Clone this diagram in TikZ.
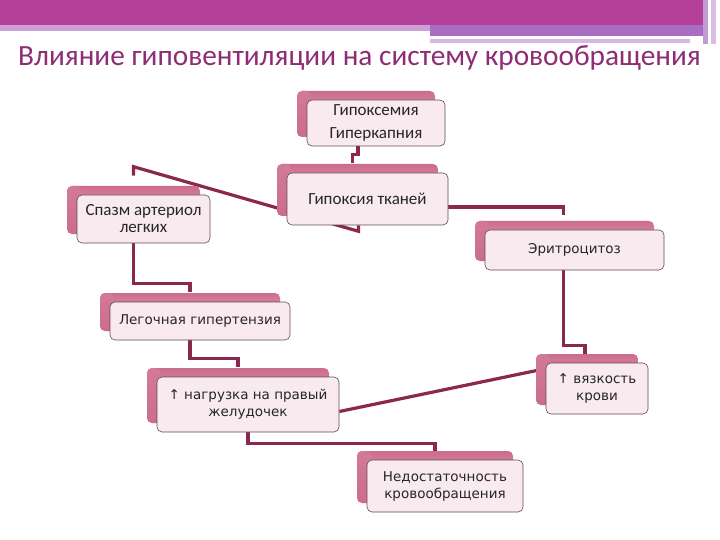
\documentclass[tikz,border=0pt]{standalone}
\usepackage{fontspec}
\setmainfont{DejaVu Sans}
\newfontfamily\cali{Carlito}
\usetikzlibrary{calc,backgrounds}

\definecolor{bandmag}{RGB}{181,64,154}
\definecolor{lilaca}{RGB}{204,160,214}
\definecolor{lilacb}{RGB}{168,110,196}
\definecolor{lilacc}{RGB}{216,184,226}
\definecolor{titlecol}{RGB}{142,44,116}
\definecolor{linkcol}{RGB}{138,40,80}
\definecolor{backtop}{RGB}{204,108,140}
\definecolor{backbot}{RGB}{238,192,207}
\definecolor{crimson}{RGB}{196,30,80}
\definecolor{frontpink}{RGB}{248,234,239}
\definecolor{edgecol}{RGB}{95,75,85}

\tikzset{
  link/.style={draw=linkcol, line width=3.2pt},
  plate/.style={draw=edgecol, line width=0.6pt, fill=frontpink, rounded corners=5pt,
    inner sep=0pt, align=center, text=black!85, font=\fontsize{13.5}{17}\selectfont},
  backplate/.style={rounded corners=5pt, top color=backtop, bottom color=backbot},
  backedge/.style={rounded corners=5pt, top color=backtop!90!white, middle color=crimson, bottom color=backtop}
}

% back plate, then the box: name, centre, width, height, text
\newcommand{\plate}[6][]{%
  \shade[backplate] ($(#3)+(-0.5*#4-10,-0.5*#5-9)$) rectangle ++(#4,#5);
  \shade[backedge] ($(#3)+(-0.5*#4-10,-0.5*#5-9)$) rectangle ++(14,#5);
  \node[plate, minimum width=#4, minimum height=#5, #1] (#2) at (#3) {#6};}

\begin{document}
\begin{tikzpicture}[x=1pt, y=-1pt]
  \useasboundingbox (0,0) rectangle (720,540);

  % --- polosa sverhu ---
  \fill[bandmag] (0,0) rectangle (705,25);
  \fill[lilaca] (0,25) rectangle (430,31);
  \fill[lilacb] (430,25) rectangle (703,36);
  \fill[lilacc] (430,39) rectangle (690,43);
  \fill[lilacb!70!white] (703,0) rectangle (708,44);
  \fill[lilaca!70!white] (711,0) rectangle (716,44);

  % zagolovok
  \node[anchor=base west, inner sep=0pt, text=titlecol, font=\cali\fontsize{29.3}{31}\selectfont]
    (title) at (18,66) {Влияние гиповентиляции на систему кровообращения};

  % --- bloki ---
  \plate[font=\cali\fontsize{17}{23}\selectfont]{hyp}{376,123}{138}{46}{Гипоксемия\\Гиперкапния}
  \plate[font=\cali\fontsize{17}{18}\selectfont]{tis}{367.5,199}{161}{52}{Гипоксия тканей}
  \plate[font=\cali\fontsize{17}{17}\selectfont]{spazm}{143.5,219}{133}{48}{Спазм артериол\\легких}
  \plate{erit}{574.5,250}{179}{40}{Эритроцитоз}
  \plate{lgip}{200,321}{180}{38}{Легочная гипертензия}
  \plate{nagr}{248,404.5}{182}{55}{↑ нагрузка на правый\\желудочек}
  \plate{vyaz}{597,388.5}{102}{51}{↑ вязкость\\крови}
  \plate{nedost}{445,486}{156}{52}{Недостаточность\\кровообращения}

  % --- svyazi (pod blokami) ---
  \begin{pgfonlayer}{background}
    \fill[white] (0,0) rectangle (720,540);
    \draw[link] ($(hyp.south)+(-18,0)$) -- ++(0,8) -| ($(tis.north)+(-15,-10)$);
    \draw[link] ($(tis.south)+(-9,0)$) -- ++(0,6) -- ($(spazm.north)+(-10,-28)$) -- ++(0,9);
    \draw[link] ($(tis.east)+(0,8)$) -| ($(erit.north)+(-11,-15)$);
    \draw[link] ($(spazm.south)+(-10,0)$) -- ++(0,40) -| ($(lgip.north)+(-10,-10)$);
    \draw[link] ($(erit.south)+(-11,0)$) -- ++(0,75) -| ($(vyaz.north)+(-12,-8)$);
    \draw[link] ($(lgip.south)+(-10,0)$) -- ++(0,18) -| ($(nagr.north)+(-10,-10)$);
    \draw[link] ($(nagr.east)+(0,7)$) -- ($(vyaz.west)+(-9,-18)$);
    \draw[link] (nagr.south) -- ++(0,11) -| ($(nedost.north)+(-10,-8)$);
  \end{pgfonlayer}
\end{tikzpicture}
\end{document}
